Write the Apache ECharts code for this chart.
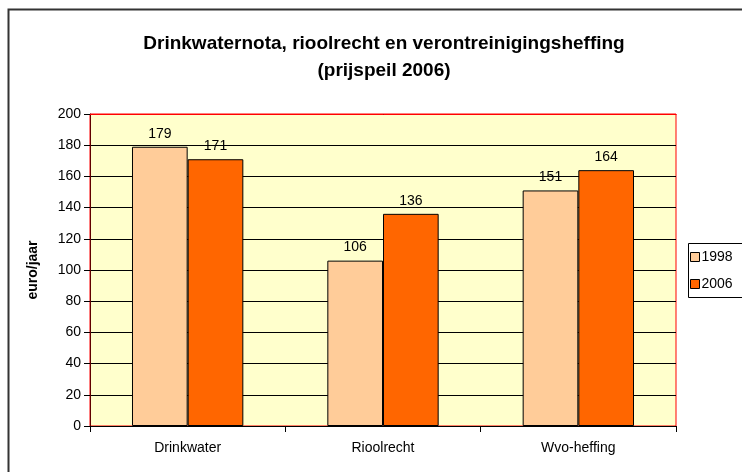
<!DOCTYPE html>
<html>
<head>
<meta charset="utf-8">
<script src="https://cdn.jsdelivr.net/npm/echarts@6/dist/echarts.min.js"></script>
<style>
  html, body { margin: 0; padding: 0; background: #fff; }
  #chart { width: 742px; height: 472px; }
</style>
</head>
<body>
<div id="chart"></div>
<script>
const categories = ['Drinkwater', 'Rioolrecht', 'Wvo-heffing'];
const values1998 = [179, 106, 151];
const values2006 = [171, 136, 164];
const seriesNames = ['1998', '2006'];

const myChart = echarts.init(document.getElementById('chart'), null, { renderer: 'canvas' });

const labelStyle = {
    show: true,
    position: 'top',
    distance: 6,
    color: '#000',
    fontFamily: 'Liberation Sans',
    fontSize: 14
};

// plot area edges
const plotLeft = 90, plotRight = 676, plotTop = 114, plotBottom = 426;

const option = {
    animation: false,
    backgroundColor: '#fff',
    title: {
        text: 'Drinkwaternota, rioolrecht en verontreinigingsheffing\n(prijspeil 2006)',
        left: 379,
        top: 25,
        textAlign: 'center',
        textStyle: {
            fontFamily: 'Liberation Sans',
            fontSize: 19,
            fontWeight: 'bold',
            color: '#000',
            lineHeight: 27
        }
    },
    graphic: [
        {
            type: 'rect',
            shape: { x: 8.5, y: 9.5, width: 800, height: 500 },
            style: { fill: 'none', stroke: '#333', lineWidth: 2 },
            silent: true
        },
        {
            type: 'rect',
            shape: { x: 688.5, y: 243.5, width: 80, height: 54 },
            style: { fill: '#fff', stroke: '#000', lineWidth: 1 },
            silent: true,
            z: 0
        },
        // red top border of the plot area (drawn over the 200 gridline)
        {
            type: 'line',
            shape: { x1: plotLeft, y1: plotTop + 0.5, x2: plotRight + 0.5, y2: plotTop + 0.5 },
            style: { stroke: '#FF0000', lineWidth: 1 },
            silent: true,
            z: 10
        }
    ],
    legend: {
        data: seriesNames,
        orient: 'vertical',
        left: 690,
        top: 250,
        itemWidth: 9,
        itemHeight: 9,
        itemGap: 13,
        padding: 0,
        icon: 'rect',
        textStyle: {
            fontFamily: 'Liberation Sans',
            fontSize: 14,
            color: '#000',
            padding: [0, 0, 0, -3]
        },
        itemStyle: { borderColor: '#000', borderWidth: 1 },
        z: 5
    },
    grid: {
        left: plotLeft,
        right: 742 - plotRight,
        top: plotTop,
        bottom: 472 - plotBottom,
        show: true,
        backgroundColor: '#FFFFCC',
        borderColor: '#FF0000',
        borderWidth: 1
    },
    xAxis: {
        type: 'category',
        data: categories,
        axisLine: { show: true, lineStyle: { color: '#000', width: 1 } },
        axisTick: { show: true, length: 6, lineStyle: { color: '#000' } },
        axisLabel: {
            color: '#000',
            fontFamily: 'Liberation Sans',
            fontSize: 14,
            margin: 15
        },
        splitLine: { show: false }
    },
    yAxis: {
        type: 'value',
        min: 0,
        max: 200,
        interval: 20,
        name: 'euro/jaar',
        nameLocation: 'middle',
        nameGap: 50,
        nameTextStyle: {
            fontFamily: 'Liberation Sans',
            fontSize: 14,
            fontWeight: 'bold',
            color: '#000'
        },
        axisLine: { show: true, lineStyle: { color: '#600000', width: 1 } },
        axisTick: { show: true, length: 6, lineStyle: { color: '#000' } },
        axisLabel: {
            color: '#000',
            fontFamily: 'Liberation Sans',
            fontSize: 14,
            margin: 9
        },
        splitLine: { show: true, lineStyle: { color: '#000', width: 1 } }
    },
    series: [
        {
            name: seriesNames[0],
            type: 'bar',
            data: values1998,
            barGap: '0%',
            barCategoryGap: '43%',
            itemStyle: { color: '#FFCC99', borderColor: '#000', borderWidth: 1 },
            label: labelStyle
        },
        {
            name: seriesNames[1],
            type: 'bar',
            data: values2006,
            itemStyle: { color: '#FF6600', borderColor: '#000', borderWidth: 1 },
            label: labelStyle
        }
    ]
};

option && myChart.setOption(option);
</script>
</body>
</html>
